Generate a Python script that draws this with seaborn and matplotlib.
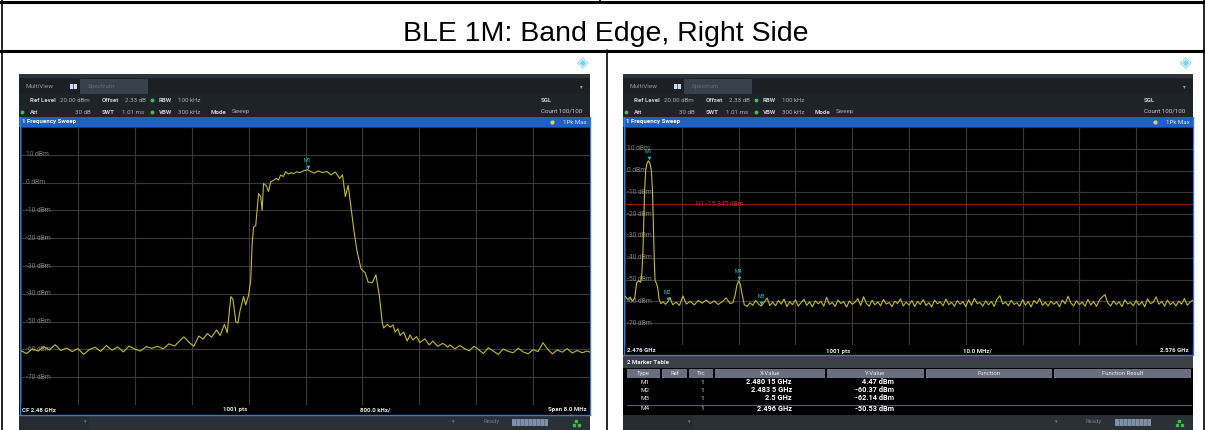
import seaborn as sns
import matplotlib.pyplot as plt
from matplotlib.patches import Rectangle
from matplotlib.transforms import offset_copy
import pandas as pd

W, H = 1205, 430

title = "BLE 1M: Band Edge, Right Side"

# left screen, 2.476 .. 2.484 GHz  (offset from start in MHz)
left_mhz = [0.00, 0.08, 0.16, 0.24, 0.32, 0.40, 0.48, 0.56, 0.64, 0.72, 0.80, 0.88, 0.96, 1.04, 1.12,
            1.20, 1.28, 1.36, 1.44, 1.52, 1.60, 1.68, 1.76, 1.84, 1.92, 2.00, 2.08, 2.16, 2.22, 2.29,
            2.36, 2.43, 2.50, 2.56, 2.62, 2.68, 2.75, 2.80, 2.86, 2.90, 2.95, 2.98, 3.02, 3.05, 3.08,
            3.13, 3.16, 3.20, 3.23, 3.25, 3.27, 3.30, 3.34, 3.37, 3.39, 3.41, 3.45, 3.48, 3.51, 3.55,
            3.59, 3.62, 3.65, 3.69, 3.72, 3.76, 3.80, 3.83, 3.88, 3.92, 3.97, 4.03, 4.08, 4.12, 4.18,
            4.24, 4.30, 4.36, 4.42, 4.48, 4.52, 4.56, 4.60, 4.64, 4.68, 4.72, 4.78, 4.84, 4.88, 4.94,
            4.99, 5.04, 5.08, 5.10, 5.15, 5.19, 5.23, 5.26, 5.30, 5.33, 5.38, 5.43, 5.47, 5.51, 5.56,
            5.61, 5.68, 5.74, 5.79, 5.86, 5.93, 6.00, 6.03, 6.10, 6.17, 6.23, 6.30, 6.37, 6.44, 6.50,
            6.57, 6.64, 6.71, 6.78, 6.85, 6.92, 6.99, 7.06, 7.13, 7.20, 7.27, 7.34, 7.40, 7.47, 7.54,
            7.61, 7.68, 7.75, 7.82, 7.89, 7.96, 8.00]
left_dbm = [-60.5, -61.5, -59.8, -60.6, -59.0, -60.2, -58.3, -60.4, -59.5, -60.8, -59.7, -61.8, -60.1, -59.2, -60.7,
            -58.6, -60.3, -59.1, -60.9, -58.8, -59.9, -60.6, -59.0, -59.6, -58.9, -59.8, -58.0, -58.8, -57.2, -55.5,
            -57.4, -58.9, -55.2, -56.3, -54.3, -55.6, -53.0, -55.0, -51.0, -54.0, -41.0, -42.0, -50.0, -50.5, -46.0,
            -41.0, -44.0, -40.5, -35.0, -22.0, -16.0, -15.5, -4.0, -5.0, -10.0, -0.3, -1.2, -3.2, 0.3, 0.8,
            1.5, 0.9, 2.7, 2.2, 3.9, 3.1, 3.6, 3.2, 3.9, 3.6, 4.2, 4.65, 3.9, 3.4, 4.2,
            3.6, 4.0, 2.8, 3.8, 1.5, 2.8, -5.0, -1.0, -9.0, -17.0, -24.0, -31.0, -32.5, -35.8, -36.0,
            -33.2, -41.0, -50.5, -52.3, -51.0, -52.0, -51.2, -53.7, -52.6, -55.0, -53.8, -57.0, -54.8, -56.6, -55.4,
            -57.5, -56.2, -58.4, -57.0, -58.9, -57.8, -59.2, -58.4, -59.8, -58.6, -59.6, -60.5, -58.9, -60.2, -61.5,
            -59.4, -60.6, -61.8, -59.9, -60.7, -61.2, -59.6, -60.9, -61.6, -60.1, -60.8, -57.6, -59.8, -61.6, -60.2,
            -61.0, -59.7, -61.3, -60.4, -61.2, -60.6, -61.0]

# right screen, 2.476 .. 2.576 GHz  (offset from start in MHz)
right_mhz = [0.0, 0.5, 0.9, 1.3, 1.7, 2.05, 2.4, 2.75, 2.95, 3.15, 3.3, 3.45, 3.65, 3.9, 4.15,
             4.4, 4.65, 4.85, 5.0, 5.15, 5.3, 5.5, 5.75, 6.0, 6.3, 6.7, 7.1, 7.5, 7.9, 8.4,
             9.0, 9.6, 10.2, 10.8, 11.5, 12.2, 12.9, 13.6, 14.3, 15.0, 15.7, 16.4, 17.1, 17.8, 18.5,
             19.0, 19.4, 19.7, 20.0, 20.3, 20.6, 21.0, 21.5, 22.0, 22.5, 23.0, 23.5, 24.0, 24.5,
             25.0, 25.5, 26.0, 26.5, 27.0, 27.5, 28.0, 28.5, 29.0, 29.5, 30.0, 30.5, 31.0, 31.5, 32.0,
             32.5, 33.0, 33.5, 34.0, 34.5, 35.0, 35.5, 36.0, 36.5, 37.0, 37.5, 38.0, 38.5, 39.0, 39.5,
             40.0, 40.5, 41.0, 41.5, 42.0, 42.5, 43.0, 43.5, 44.0, 44.5, 45.0, 45.5, 46.0, 46.5, 47.0,
             47.5, 48.0, 48.5, 49.0, 49.5, 50.0, 50.5, 51.0, 51.5, 52.0, 52.5, 53.0, 53.5, 54.0, 54.5,
             55.0, 55.5, 56.0, 56.5, 57.0, 57.5, 58.0, 58.5, 59.0, 59.5, 60.0, 60.5, 61.0, 61.5, 62.0,
             62.5, 63.0, 63.5, 64.0, 64.5, 65.0, 65.5, 66.0, 66.5, 67.0, 67.5, 68.0, 68.5, 69.0, 69.5,
             70.0, 70.5, 71.0, 71.5, 72.0, 72.5, 73.0, 73.5, 74.0, 74.5, 75.0, 75.5, 76.0, 76.5, 77.0,
             77.5, 78.0, 78.5, 79.0, 79.5, 80.0, 80.5, 81.0, 81.5, 82.0, 82.5, 83.0, 83.5, 84.0, 84.5,
             85.0, 85.5, 86.0, 86.5, 87.0, 87.5, 88.0, 88.5, 89.0, 89.5, 90.0, 90.5, 91.0, 91.5, 92.0,
             92.5, 93.0, 93.5, 94.0, 94.5, 95.0, 95.5, 96.0, 96.5, 97.0, 97.5, 98.0, 98.5, 99.0, 99.5,
             100.0]
right_dbm = [-57.6, -59.2, -58.1, -59.8, -58.6, -51.5, -50.6, -51.2, -48.0, -38.0, -24.0, -9.0, 0.2, 3.6, 4.47,
             3.4, -0.2, -10.0, -26.0, -41.0, -50.5, -51.5, -53.5, -59.0, -61.0, -60.2, -61.3, -60.37, -58.2, -61.5,
             -60.4, -61.8, -57.5, -61.2, -60.0, -61.6, -59.6, -60.8, -59.4, -61.0, -59.8, -61.4, -60.2, -58.4, -61.0,
             -60.6, -57.0, -52.5, -50.53, -52.0, -56.5, -61.5, -62.3, -60.6, -61.8, -59.6, -61.2, -62.14, -60.4,
             -58.4, -61.9, -60.3, -62.0, -59.6, -61.2, -58.9, -62.4, -60.1, -61.5, -59.3, -62.1, -60.6, -59.0, -61.8,
             -60.2, -62.5, -59.7, -61.1, -60.0, -62.2, -58.1, -61.4, -60.5, -62.3, -59.4, -61.0, -60.1, -62.6, -59.8,
             -61.3, -60.4, -58.7, -61.9, -57.8, -60.9, -62.2, -59.5, -61.6, -60.2, -62.0, -59.1, -61.2, -60.5, -62.4,
             -59.9, -61.0, -58.8, -62.1, -60.3, -61.7, -59.6, -62.3, -60.0, -61.4, -59.2, -61.9, -60.6, -62.5, -59.4,
             -61.1, -60.2, -62.0, -58.9, -61.5, -60.4, -62.2, -59.7, -61.3, -60.1, -62.4, -59.3, -61.8, -58.6, -61.0,
             -60.5, -62.1, -59.8, -61.6, -60.0, -62.3, -59.0, -57.4, -61.2, -60.3, -62.0, -59.5, -61.4, -60.6, -62.2,
             -59.2, -61.7, -60.1, -62.5, -59.6, -61.0, -58.7, -61.8, -60.4, -62.1, -59.9, -61.3, -60.2, -62.4, -59.4,
             -61.1, -57.6, -60.8, -62.0, -59.7, -61.5, -60.3, -62.2, -59.1, -61.6, -60.0, -62.3, -59.5, -58.0, -56.9,
             -60.7, -62.1, -59.8, -61.4, -60.2, -62.4, -59.3, -61.2, -60.5, -62.0, -59.6, -61.7, -60.1, -62.5, -58.8,
             -61.0, -60.4, -57.9, -61.3, -60.0, -62.2, -59.4, -61.5, -60.3, -62.1, -59.9, -61.2, -58.7, -61.8, -60.2,
             -59.4]

left_marker_mhz = [4.032]
left_marker_dbm = [4.65]
right_names = ["M1", "M2", "M3", "M4"]
right_marker_ghz = [2.48015, 2.4835, 2.5, 2.496]
right_marker_xtxt = ["2.480 15 GHz", "2.483 5 GHz", "2.5 GHz", "2.496 GHz"]
right_marker_dbm = [4.47, -60.37, -62.14, -50.53]
level_ticks = [10, 0, -10, -20, -30, -40, -50, -60, -70]
h1_dbm = -15.345

TRACE = '#c4bb2c'
CYAN = '#22c4d4'
BLUE = '#1f5fc4'
GRID = '#3a3a3a'
UI = 'Roboto'

sns.set_theme(style="dark")
plt.rcParams['font.family'] = ['Roboto', 'DejaVu Sans']

fig = plt.figure(figsize=(W / 100, H / 100), dpi=100)
bg = fig.add_axes([0, 0, 1, 1])
bg.set_xlim(0, W)
bg.set_ylim(H, 0)
bg.axis('off')


def box(x0, y0, x1, y1, c, z=1):
    bg.add_patch(Rectangle((x0, y0), x1 - x0, y1 - y0, color=c, lw=0, zorder=z))


def txt(x, y, s, size=4.4, c='#c9cdd1', bold=False, ha='left', fam=UI, z=5):
    bg.text(x, y, s, fontsize=size, color=c, fontweight='bold' if bold else 'normal',
            ha=ha, va='center', family=fam, zorder=z)


# table frame of the document
bg.plot([0, W], [1.5, 1.5], color='black', lw=2.2)
bg.plot([0, W], [50.5, 50.5], color='black', lw=2.2)
bg.plot([1.5, 1.5], [0, H], color='black', lw=1.2)
bg.plot([1203.5, 1203.5], [0, H], color='black', lw=1.2)
bg.plot([606.5, 606.5], [50, H], color='black', lw=1.2)
bg.plot([600, 600], [0, 3], color='black', lw=1.2)
txt(606, 34, title, size=20.5, c='black', ha='center', fam='Liberation Sans')


def chrome(dx, black_bottom):
    xl, xr = 19 + dx, 590 + dx if dx == 0 else 1193
    box(xl, 74, xr, 78, '#2e3439')
    box(xl, 78, xr, 94, '#1c2025')
    box(80 + dx, 79, 148 + dx, 94, '#36414b')
    txt(25 + dx, 86.5, "MultiView", size=4.6, c='#8e959c')
    box(70 + dx, 84, 77 + dx, 89, '#cfd8e0', z=2)
    box(73 + dx, 84, 74 + dx, 89, '#3a70c0', z=3)
    txt(88 + dx, 86.5, "Spectrum", size=4.6, c='#5f6c77')
    txt(xr - 10, 86.5, "\u25be", size=4, c='#9aa1a8', fam='DejaVu Sans')
    box(xl, 94, xr, 117, '#1e2328')
    # setting rows
    y1, y2 = 100, 112
    txt(30 + dx, y1, "Ref Level", bold=True)
    txt(60 + dx, y1, "20.00 dBm", c='#a7aeb5')
    txt(102 + dx, y1, "Offset", bold=True)
    txt(125 + dx, y1, "2.33 dB", c='#a7aeb5')
    txt(159 + dx, y1, "RBW", bold=True)
    txt(178 + dx, y1, "100 kHz", c='#a7aeb5')
    txt(30 + dx, y2, "Att", bold=True)
    txt(91 + dx, y2, "30 dB", c='#a7aeb5', ha='right')
    txt(102 + dx, y2, "SWT", bold=True)
    txt(122 + dx, y2, "1.01 ms", c='#a7aeb5')
    txt(159 + dx, y2, "VBW", bold=True)
    txt(178 + dx, y2, "300 kHz", c='#a7aeb5')
    txt(211 + dx, y2, "Mode", bold=True)
    txt(232 + dx, y2, "Sweep", c='#a7aeb5')
    for gx, gy in [(152 + dx, y1), (22 + dx, y2), (152 + dx, y2)]:
        bg.plot(gx, gy, 'o', ms=1.8, color='#3fbf52', zorder=6)
    txt(xr - 49, y1, "SGL", bold=True)
    txt(xr - 49, y2 - 1, "Count 100/100", c='#c9cdd1')
    # blue title bar
    box(xl, 117, xr, 127, BLUE)
    txt(22 + dx, 122, "1 Frequency Sweep", bold=True, c='white')
    bg.plot(xr - 38, 122, 'o', ms=2.0, color='#e6d830', zorder=6)
    txt(xr - 3, 122, "1Pk Max", c='#dfe6ee', ha='right')
    box(xl, 127, xr, black_bottom, 'black')
    bg.plot([xl + 1, xl + 1], [117, black_bottom], color='#2d7de0', lw=1.0, zorder=7)
    bg.plot([xr - 0.5, xr - 0.5], [117, black_bottom], color='#2d7de0', lw=1.0, zorder=7)
    bg.plot([xl, xr], [black_bottom, black_bottom], color='#2d7de0', lw=1.0, zorder=7)
    # status bar
    box(xl, 415, xr, 430, '#2a3036')
    box(xl, 415, 89 + dx, 430, '#262b30')
    txt(84 + dx, 422, "\u25be", size=3.5, c='#7d858c', fam='DejaVu Sans')
    txt(xr - 138, 422, "\u25be", size=3.5, c='#7d858c', fam='DejaVu Sans')
    txt(xr - 107, 422, "Ready", size=4.2, c='#6f777e')
    box(xr - 78, 419, xr - 42, 426, '#7f91a6', z=2)
    for k in range(1, 9):
        box(xr - 78 + k * 4, 419, xr - 77.4 + k * 4, 426, '#5f7085', z=3)
    for gx, gy in [(xr - 14, 420.5), (xr - 16.5, 424.5), (xr - 11.5, 424.5)]:
        bg.plot(gx, gy, 's', ms=1.5, color='#38c048', zorder=6)
    txt(xr - 7, 63, "\u25c8", size=11, c='#79d2f2', ha='center', fam='DejaVu Sans')


chrome(0, 415)
chrome(604, 355)


def scope(rect_px, f0, f1, df, tick_x):
    x0, y0, x1, y1 = rect_px
    ax = fig.add_axes([x0 / W, 1 - y1 / H, (x1 - x0) / W, (y1 - y0) / H])
    ax.set_facecolor('black')
    sns.lineplot(data=df, x='freq', y='level', ax=ax, color=TRACE, linewidth=0.8,
                 estimator=None, sort=False, legend=False, zorder=3)
    ax.set_xlim(f0, f1)
    ax.set_ylim(-80, 20)
    ax.set_xticks([f0 + (f1 - f0) * i / 10 for i in range(11)])
    ax.set_yticks(list(range(-80, 21, 10)))
    ax.grid(True, color=GRID, lw=0.8)
    ax.tick_params(length=0, labelbottom=False, labelleft=False)
    ax.set_xlabel('')
    ax.set_ylabel('')
    for s in ax.spines.values():
        s.set_visible(False)
    for v in level_ticks:
        ax.text(tick_x, v, f"{v} dBm", transform=ax.get_yaxis_transform(), fontsize=4.9,
                color='#7c7c7c', va='center', ha='left', zorder=2, family=UI)
    return ax


def mark(ax, name, f, lvl):
    tri = offset_copy(ax.transData, fig=fig, x=0, y=3, units='dots')
    lab = offset_copy(ax.transData, fig=fig, x=0, y=9.5, units='dots')
    ax.scatter([f], [lvl], marker='v', s=7, color=CYAN, transform=tri, zorder=5, linewidths=0)
    ax.text(f, lvl, name, transform=lab, fontsize=3.8, color=CYAN, ha='center', va='center', zorder=5)


# left scope
left_df = pd.DataFrame({'freq': [2.476 + m / 1000 for m in left_mhz], 'level': left_dbm})
axl = scope((21, 127, 590, 405), 2.476, 2.484, left_df, 0.008)
for f, lv in zip(left_marker_mhz, left_marker_dbm):
    mark(axl, "M1", 2.476 + f / 1000, lv)
txt(22, 410, "CF 2.48 GHz", bold=True, c='#e6e9ec')
txt(235, 410, "1001 pts", bold=True, c='#e6e9ec', ha='center')
txt(375, 410, "800.0 kHz/", bold=True, c='#e6e9ec', ha='center')
txt(587, 410, "Span 8.0 MHz", bold=True, c='#e6e9ec', ha='right')
txt(537, 132.5, "M1[1]", c=CYAN, ha='right', bold=True)
txt(587, 132.5, f"{left_marker_dbm[0]:.2f} dBm", c=CYAN, ha='right', bold=True)
txt(587, 141, "2.480 032 00 GHz", c=CYAN, ha='right', bold=True)

# right scope
right_df = pd.DataFrame({'freq': [2.476 + m / 1000 for m in right_mhz], 'level': right_dbm})
axr = scope((625, 127, 1193, 345), 2.476, 2.576, right_df, 0.004)
axr.axhline(h1_dbm, color='#9a1010', lw=0.8, zorder=2)
axr.text(0.167, h1_dbm, f"H1 {h1_dbm} dBm", transform=axr.get_yaxis_transform(), fontsize=4.8,
         color='#c8201c', ha='center', va='center', zorder=4, family=UI)
for n, f, lv in zip(right_names, right_marker_ghz, right_marker_dbm):
    mark(axr, n, f, lv)
txt(627, 351, "2.476 GHz", bold=True, c='#e6e9ec')
txt(838, 351, "1001 pts", bold=True, c='#e6e9ec', ha='center')
txt(977, 351, "10.0 MHz/", bold=True, c='#e6e9ec', ha='center')
txt(1189, 351, "2.576 GHz", bold=True, c='#e6e9ec', ha='right')
txt(1140, 132.5, "M1[1]", c=CYAN, ha='right', bold=True)
txt(1189, 132.5, f"{right_marker_dbm[0]:.2f} dBm", c=CYAN, ha='right', bold=True)
txt(1189, 141, "2.480 150 0 GHz", c=CYAN, ha='right', bold=True)
txt(1140, 149.5, "M2[1]", c=CYAN, ha='right', bold=True)
txt(1189, 149.5, f"{right_marker_dbm[1]:.2f} dBm", c=CYAN, ha='right', bold=True)
txt(1189, 158, "2.483 500 0 GHz", c=CYAN, ha='right', bold=True)

# marker table
box(623, 356, 1193, 368, '#3a4046')
txt(627, 362, "2 Marker Table", bold=True, c='#e8ebee')
box(623, 368, 1193, 415, 'black')
cols = [(627, 660, "Type"), (662, 687, "Ref"), (689, 713, "Trc"), (715, 825, "X-Value"),
        (827, 924, "Y-Value"), (926, 1052, "Function"), (1054, 1191, "Function Result")]
for a, b, name in cols:
    box(a, 369, b, 378, '#6a6e80', z=2)
    txt((a + b) / 2, 373.5, name, c='#e4e6ee', ha='center', size=4.3)
for i, (n, xt, lv) in enumerate(zip(right_names, right_marker_xtxt, right_marker_dbm)):
    yy = [382, 390.5, 398.5, 409][i]
    txt(645, yy, n, c='#e8e8e8', ha='center', size=4.6)
    txt(702, yy, "1", c='#e8e8e8', ha='center', size=4.6)
    txt(792, yy, xt, c='white', ha='right', size=5.3, bold=True)
    txt(894, yy, f"{lv:.2f} dBm", c='white', ha='right', size=5.3, bold=True)
bg.plot([627, 1191], [404.5, 404.5], color='#5a5e66', lw=0.8, zorder=4)

fig.savefig('out.png', dpi=100)
